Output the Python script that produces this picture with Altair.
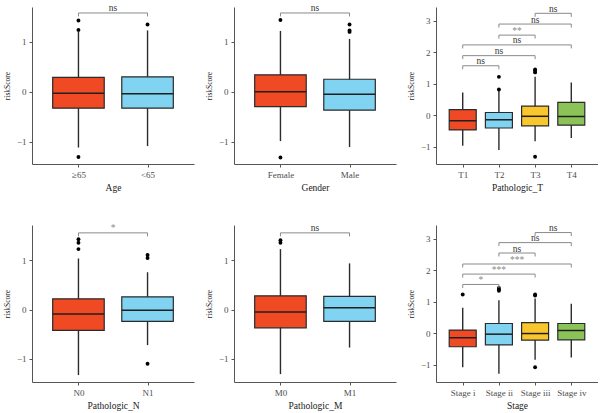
import altair as alt
import pandas as pd

FONT = "Liberation Serif"
COLORS = ["#EF4A24", "#80D3F1", "#F9C62E", "#8CC359"]

# ---- Age ----
age_cats = ["≥65", "<65"]
age_lo = [-1.12, -1.09]
age_q1 = [-0.33, -0.33]
age_med = [-0.03, -0.04]
age_q3 = [0.29, 0.30]
age_hi = [1.21, 1.23]
age_out = [[1.24, 1.43, -1.31], [1.35]]
age_br_a, age_br_b, age_br_lab, age_br_y = [0], [1], ["ns"], [1.58]

# ---- Gender ----
gen_cats = ["Female", "Male"]
gen_lo = [-0.99, -1.11]
gen_q1 = [-0.30, -0.37]
gen_med = [0.0, -0.05]
gen_q3 = [0.34, 0.25]
gen_hi = [1.22, 1.06]
gen_out = [[1.44, -1.32], [1.35, 1.23, 1.20]]
gen_br_a, gen_br_b, gen_br_lab, gen_br_y = [0], [1], ["ns"], [1.58]

# ---- Pathologic_T ----
t_cats = ["T1", "T2", "T3", "T4"]
t_lo = [-0.96, -1.10, -0.82, -0.72]
t_q1 = [-0.46, -0.40, -0.33, -0.31]
t_med = [-0.17, -0.14, -0.03, -0.04]
t_q3 = [0.18, 0.09, 0.29, 0.41]
t_hi = [0.72, 0.78, 1.22, 1.04]
t_out = [[], [1.22, 0.82], [1.45, 1.41, 1.36, -1.31], []]
t_br_a = [0, 0, 0, 1, 1, 2]
t_br_b = [1, 2, 3, 2, 3, 3]
t_br_lab = ["ns", "ns", "ns", "**", "ns", "ns"]
t_br_y = [1.57, 1.89, 2.23, 2.54, 2.89, 3.23]

# ---- Pathologic_N ----
n_cats = ["N0", "N1"]
n_lo = [-1.33, -0.72]
n_q1 = [-0.42, -0.24]
n_med = [-0.09, -0.01]
n_q3 = [0.22, 0.26]
n_hi = [1.04, 0.76]
n_out = [[1.43, 1.36, 1.23], [1.11, 1.05, -1.10]]
n_br_a, n_br_b, n_br_lab, n_br_y = [0], [1], ["*"], [1.56]

# ---- Pathologic_M ----
m_cats = ["M0", "M1"]
m_lo = [-1.31, -0.77]
m_q1 = [-0.37, -0.24]
m_med = [-0.05, 0.04]
m_q3 = [0.28, 0.27]
m_hi = [1.23, 0.94]
m_out = [[1.41, 1.36], []]
m_br_a, m_br_b, m_br_lab, m_br_y = [0], [1], ["ns"], [1.56]

# ---- Stage ----
s_cats = ["Stage i", "Stage ii", "Stage iii", "Stage iv"]
s_lo = [-1.08, -1.29, -0.84, -0.77]
s_q1 = [-0.43, -0.37, -0.22, -0.21]
s_med = [-0.14, -0.03, -0.01, 0.09]
s_q3 = [0.10, 0.31, 0.34, 0.31]
s_hi = [0.81, 1.05, 1.10, 0.94]
s_out = [[1.23], [1.44, 1.39, 1.35], [1.23, 1.20, -1.08], []]
s_br_a = [0, 0, 0, 1, 1, 2]
s_br_b = [1, 2, 3, 2, 3, 3]
s_br_lab = ["*", "***", "***", "ns", "ns", "ns"]
s_br_y = [1.55, 1.88, 2.20, 2.55, 2.88, 3.20]

W = 162


def panel(title, cats, lo, q1, med, q3, hi, outs, br_a, br_b, br_lab, br_y,
          ydom, yticks, height):
    n = len(cats)
    box = pd.DataFrame({"i": list(range(n)), "lo": lo, "q1": q1, "med": med,
                        "q3": q3, "hi": hi, "col": COLORS[:n]})
    pts = pd.DataFrame([{"i": i, "v": v} for i, vs in enumerate(outs) for v in vs])
    br = pd.DataFrame({"a": br_a, "b": br_b, "lab": br_lab, "y": br_y})
    bw = 0.7 * W / (n + 0.2)
    tick_len = 3.5 * (ydom[1] - ydom[0]) / height
    labexpr = "[" + ",".join("'%s'" % c for c in cats) + "][datum.value]"
    xs = alt.Scale(domain=[-0.6, n - 0.4], nice=False, zero=False)
    ys = alt.Scale(domain=ydom, nice=False, zero=False)
    xax = alt.Axis(values=list(range(n)), labelExpr=labexpr, title=title,
                   grid=False, labelFlush=False)
    yax = alt.Axis(values=yticks, title="riskScore", grid=False, format="d",
                   labelFlush=False)

    def X(f):
        return alt.X(f, type="quantitative", scale=xs, axis=xax)

    def Y(f):
        return alt.Y(f, type="quantitative", scale=ys, axis=yax)

    base = alt.Chart(box)
    whisk = base.mark_rule(color="#2b2b2b", strokeWidth=1.4).encode(
        x=X("i"), y=Y("lo"), y2="hi")
    bars = base.mark_bar(size=bw, stroke="#2b2b2b", strokeWidth=1.2).encode(
        x=X("i"), y=Y("q1"), y2="q3", fill=alt.Fill("col:N", scale=None))
    meds = base.mark_tick(orient="horizontal", size=bw, thickness=1.5,
                          color="#1f1f1f", opacity=1).encode(x=X("i"), y=Y("med"))
    outl = alt.Chart(pts).mark_circle(size=15, color="black", opacity=1).encode(
        x=X("i"), y=Y("v"))
    bb = alt.Chart(br).transform_calculate(
        yl="datum.y - %f" % tick_len, mid="(datum.a + datum.b) / 2",
        tc="datum.lab == 'ns' ? '#333333' : '#8a8a8a'")
    brh = bb.mark_rule(color="#8a8a8a", strokeWidth=1).encode(
        x=X("a"), x2="b", y=Y("y"))
    bra = bb.mark_rule(color="#8a8a8a", strokeWidth=1).encode(
        x=X("a"), y=Y("y"), y2="yl")
    brb = bb.mark_rule(color="#8a8a8a", strokeWidth=1).encode(
        x=X("b"), y=Y("y"), y2="yl")
    txt = bb.mark_text(baseline="alphabetic", dy=-1.5, fontSize=9.5, font=FONT).encode(
        x=X("mid"), y=Y("y"), text="lab:N",
        fill=alt.Fill("tc:N", scale=None))
    return alt.layer(whisk, bars, meds, outl, brh, bra, brb, txt).properties(
        width=W, height=height)


H = 157
panels = [
    panel("Age", age_cats, age_lo, age_q1, age_med, age_q3, age_hi, age_out,
          age_br_a, age_br_b, age_br_lab, age_br_y, [-1.45, 1.70], [-1, 0, 1], H),
    panel("Gender", gen_cats, gen_lo, gen_q1, gen_med, gen_q3, gen_hi, gen_out,
          gen_br_a, gen_br_b, gen_br_lab, gen_br_y, [-1.45, 1.70], [-1, 0, 1], H),
    panel("Pathologic_T", t_cats, t_lo, t_q1, t_med, t_q3, t_hi, t_out,
          t_br_a, t_br_b, t_br_lab, t_br_y, [-1.54, 3.43], [-1, 0, 1, 2, 3], H),
    panel("Pathologic_N", n_cats, n_lo, n_q1, n_med, n_q3, n_hi, n_out,
          n_br_a, n_br_b, n_br_lab, n_br_y, [-1.47, 1.72], [-1, 0, 1], H),
    panel("Pathologic_M", m_cats, m_lo, m_q1, m_med, m_q3, m_hi, m_out,
          m_br_a, m_br_b, m_br_lab, m_br_y, [-1.47, 1.72], [-1, 0, 1], H),
    panel("Stage", s_cats, s_lo, s_q1, s_med, s_q3, s_hi, s_out,
          s_br_a, s_br_b, s_br_lab, s_br_y, [-1.55, 3.44], [-1, 0, 1, 2, 3], H),
]

chart = alt.concat(*panels, columns=3, spacing=alt.RowColnumber(row=61, column=40),
                   bounds="flush").properties(
    padding={"left": 3, "top": 3, "right": 0, "bottom": 5},
    background="white",
).configure_view(stroke=None).configure_axis(
    domainColor="#555555", tickColor="#555555", labelColor="#4d4d4d",
    titleColor="#1a1a1a", labelFont=FONT, titleFont=FONT, labelFontSize=9,
    titleFontSize=9.5, titleFontWeight="normal", tickSize=3, labelPadding=3,
    titlePadding=3, domainWidth=1, tickWidth=1,
).configure_axisY(titleFontSize=7.5, titlePadding=5, labelPadding=3)

chart.save("out.html", embed_options={"renderer": "svg", "actions": False})
